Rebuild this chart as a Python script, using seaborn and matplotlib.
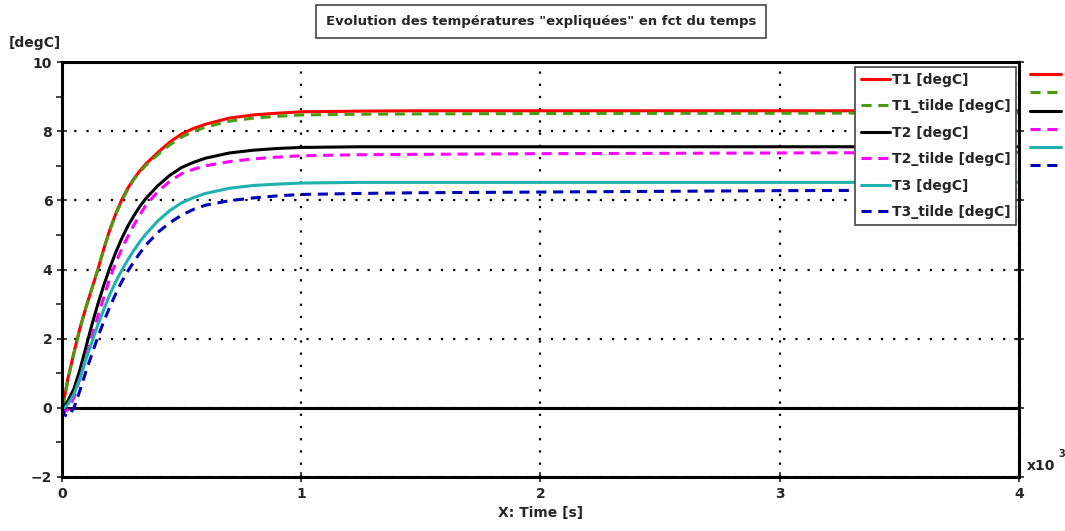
import pandas as pd
import matplotlib.pyplot as plt
import seaborn as sns

# time [s] and the six temperature curves [degC]
time = [0, 10, 25, 50, 75, 100, 125, 150, 175, 200, 225, 250, 275, 300, 325, 350,
        400, 450, 500, 550, 600, 700, 800, 900, 1000, 1250, 1500, 2000, 3000, 4000]
t1 = [0, 0.3, 0.85, 1.6, 2.3, 2.9, 3.45, 4.0, 4.6, 5.15, 5.62, 6.02, 6.35, 6.62, 6.85, 7.05,
      7.38, 7.68, 7.92, 8.08, 8.2, 8.38, 8.47, 8.52, 8.56, 8.58, 8.59, 8.59, 8.59, 8.59]
t1_tilde = [0, 0.25, 0.82, 1.58, 2.28, 2.9, 3.45, 4.0, 4.6, 5.13, 5.6, 5.98, 6.32, 6.6, 6.82, 7.01,
            7.32, 7.6, 7.83, 7.99, 8.12, 8.29, 8.38, 8.43, 8.47, 8.49, 8.5, 8.51, 8.52, 8.53]
t2 = [0, 0.05, 0.2, 0.55, 1.1, 1.75, 2.4, 3.0, 3.55, 4.05, 4.5, 4.9, 5.25, 5.55, 5.82, 6.05,
      6.42, 6.72, 6.95, 7.1, 7.22, 7.37, 7.45, 7.5, 7.53, 7.55, 7.55, 7.55, 7.55, 7.55]
t2_tilde = [0, -0.12, -0.05, 0.3, 0.85, 1.45, 2.05, 2.65, 3.2, 3.75, 4.2, 4.6, 4.95, 5.28, 5.58, 5.85,
            6.25, 6.55, 6.77, 6.9, 7.0, 7.12, 7.2, 7.25, 7.29, 7.32, 7.33, 7.35, 7.37, 7.39]
t3 = [0, 0.0, 0.1, 0.4, 0.85, 1.4, 1.9, 2.4, 2.85, 3.28, 3.65, 3.98, 4.28, 4.55, 4.8, 5.02,
      5.4, 5.7, 5.93, 6.08, 6.2, 6.35, 6.43, 6.47, 6.5, 6.52, 6.52, 6.52, 6.52, 6.52]
t3_tilde = [0, -0.2, -0.25, 0.0, 0.5, 1.05, 1.55, 2.05, 2.5, 2.92, 3.3, 3.65, 3.95, 4.22, 4.47, 4.7,
            5.07, 5.35, 5.57, 5.74, 5.86, 5.99, 6.07, 6.13, 6.17, 6.2, 6.22, 6.24, 6.28, 6.3]

labels = ['T1 [degC]', 'T1_tilde [degC]', 'T2 [degC]', 'T2_tilde [degC]',
          'T3 [degC]', 'T3_tilde [degC]']
colors = ['#ff0000', '#4c9a10', '#000000', '#ff00ff', '#1fb0b0', '#0000b4']
dashed = (0, (3.3, 2.2))
styles = ['-', dashed, '-', dashed, '-', dashed]
series = [t1, t1_tilde, t2, t2_tilde, t3, t3_tilde]

sns.set_theme(style='white')
plt.rcParams['font.family'] = ['DejaVu Sans']

fig = plt.figure(figsize=(10.65, 5.31), dpi=100)
ax = fig.add_axes([0.0582, 0.1017, 0.8986, 0.7815])

handles = []
for lab, col, ls, vals in zip(labels, colors, styles, series):
    df = pd.DataFrame({'t': time, 'T': vals})
    sns.lineplot(data=df, x='t', y='T', color=col, linewidth=2.2, ax=ax, label=lab)
    line = ax.lines[-1]
    line.set_linestyle(ls)
    handles.append(line)

ax.axhline(0, color='black', linewidth=2.2, zorder=1)

ax.set_xlim(0, 4000)
ax.set_ylim(-2, 10)
ax.set_xticks([0, 1000, 2000, 3000, 4000])
ax.set_xticklabels(['0', '1', '2', '3', '4'])
ax.set_yticks([-2, 0, 2, 4, 6, 8, 10])
ax.set_yticks([-1, 1, 3, 5, 7, 9], minor=True)
ax.grid(True, which='major', color='black', linestyle=(0, (1, 4.5)), linewidth=1.6)
ax.tick_params(axis='both', which='major', labelsize=10, length=7, width=1.2,
               direction='inout', left=True, bottom=True, right=True)
ax.tick_params(axis='y', which='minor', length=4, width=1.2, direction='out', left=True)
for t in ax.get_xticklabels() + ax.get_yticklabels():
    t.set_fontweight('bold')
for s in ax.spines.values():
    s.set_color('black')
    s.set_linewidth(2.2)

ax.set_xlabel('X: Time [s]', fontsize=10, fontweight='bold', labelpad=4)
ax.set_ylabel('')
fig.text(0.008, 0.905, '[degC]', fontsize=10, fontweight='bold', ha='left', va='bottom')
fig.text(0.964, 0.11, 'x10', fontsize=10, fontweight='bold', ha='left', va='bottom')
fig.text(0.994, 0.135, '3', fontsize=7, fontweight='bold', ha='left', va='bottom')

fig.text(0.508, 0.96, 'Evolution des températures "expliquées" en fct du temps',
         fontsize=9.5, fontweight='bold', ha='center', va='center',
         bbox=dict(boxstyle='square,pad=0.75', facecolor='white', edgecolor='#444444',
                   linewidth=1.2))

leg = ax.legend(handles=handles, labels=labels, loc='upper right',
                bbox_to_anchor=(0.997, 0.988), fontsize=10, frameon=True,
                fancybox=False, framealpha=1, edgecolor='#444444', handlelength=2.1,
                handletextpad=0.15, labelspacing=0.9, borderpad=0.4,
                borderaxespad=0.0, prop={'weight': 'bold', 'size': 10})
leg.get_frame().set_linewidth(1.2)
ax.add_artist(leg)

# short line samples outside the plot on the right
side = ax.legend(handles=handles, labels=[''] * 6, loc='upper left',
                 bbox_to_anchor=(1.011, 0.986), frameon=False, handlelength=2.3,
                 handletextpad=0, labelspacing=0.31, borderpad=0, borderaxespad=0,
                 fontsize=10)

fig.savefig('out.png', dpi=100, facecolor='white')
